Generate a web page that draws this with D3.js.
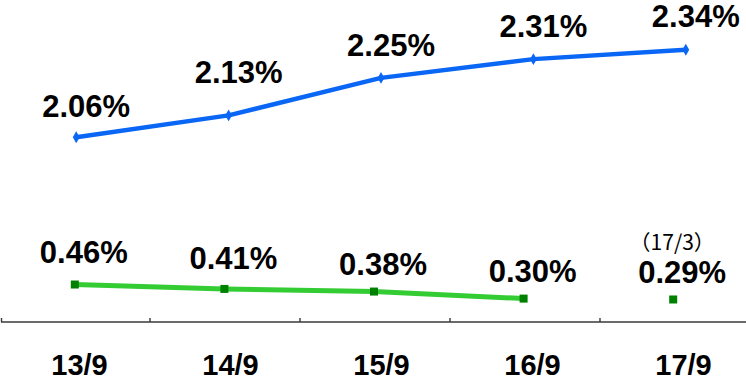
<!DOCTYPE html>
<html>
<head>
<meta charset="utf-8">
<script src="https://cdn.jsdelivr.net/npm/d3@7"></script>
<style>
  html, body { margin: 0; padding: 0; background: #fff; }
  svg { display: block; }
  .val { font-family: "Liberation Sans", Arial, sans-serif; font-weight: bold; font-size: 31px; fill: #000; }
  .tick-label { font-family: "Liberation Sans", Arial, sans-serif; font-weight: bold; font-size: 29px; fill: #000; }
  .note { font-family: "Noto Sans CJK JP", "Noto Sans", sans-serif; font-size: 21px; fill: #000; }
</style>
</head>
<body>
<svg id="chart" width="746" height="382"></svg>
<script>
// Period labels (fiscal year / month)
const periods = ["13/9", "14/9", "15/9", "16/9", "17/9"];
// Upper series (%)
const upperRates = [2.06, 2.13, 2.25, 2.31, 2.34];
// Lower series (%), 13/9 – 16/9 joined by a line
const lowerRates = [0.46, 0.41, 0.38, 0.30];
// Latest lower value is as of 17/3, shown as a standalone point in the 17/9 slot
const lowerLatest = { period: "17/9", value: 0.29, note: "（17/3）" };

// Label nudges (px) so the value tags sit clear of the lines
const upperLabelDy = [-20, -32, -22, -22, -23];
const lowerLabelDy = [-22, -20, -17, -17, -16];

const W = 746, H = 382;
const svg = d3.select("#chart");

// Category slots: boundaries for ticks, and slightly different spreads per layer
const xSlots = d3.scaleBand().domain(periods).range([0, 750]);
const xUpper = d3.scaleBand().domain(periods).range([0, 762]);
const xLower = d3.scaleBand().domain(periods).range([0, 748]);
const xText  = d3.scaleBand().domain(periods).range([4, 759]);
const mid = s => p => s(p) + s.bandwidth() / 2;
const cxU = mid(xUpper), cxL = mid(xLower);

// Two independent vertical scales: upper band and lower band
const yUpper = d3.scaleLinear().domain([2.0, 2.4]).range([156, 31]);
const yLower = d3.scaleLinear().domain([0, 0.5]).range([325, 281]);

const fmt = v => v.toFixed(2) + "%";

// Axis baseline with slot boundary ticks pointing up
const axisY = 322;
const axisG = svg.append("g").attr("transform", `translate(0,${axisY})`);
axisG.append("line")
  .attr("x1", 1).attr("x2", W).attr("y1", 0).attr("y2", 0)
  .attr("stroke", "#3a3a3a").attr("stroke-width", 1.6);
axisG.selectAll("line.edge").data(periods).join("line")
  .attr("class", "edge")
  .attr("x1", d => Math.max(xSlots(d), 1.5)).attr("x2", d => Math.max(xSlots(d), 1.5))
  .attr("y1", 0).attr("y2", -4)
  .attr("stroke", "#3a3a3a").attr("stroke-width", 1.4);

const xAxis = d3.axisBottom(xText).tickSize(0).tickPadding(0);
const axisLabels = svg.append("g").attr("transform", `translate(0,${axisY})`).call(xAxis);
axisLabels.select(".domain").remove();
axisLabels.selectAll("text")
  .attr("class", "tick-label")
  .attr("dy", 0).attr("y", 53)
  .attr("font-size", null).attr("font-family", null);

// Upper series line
const upperData = periods.map((p, i) => ({ p, v: upperRates[i], i }));
const upperLine = d3.line().x(d => cxU(d.p)).y(d => yUpper(d.v));
svg.append("path").datum(upperData)
  .attr("d", upperLine)
  .attr("fill", "none").attr("stroke", "#0a66f5")
  .attr("stroke-width", 4.5).attr("stroke-linejoin", "round");
svg.selectAll("path.upper-mark").data(upperData).join("path")
  .attr("class", "upper-mark")
  .attr("d", d3.symbol(d3.symbolDiamond, 40))
  .attr("transform", d => `translate(${cxU(d.p)},${yUpper(d.v)})`)
  .attr("fill", "#0a66f5");
svg.selectAll("text.upper-val").data(upperData).join("text")
  .attr("class", "val upper-val")
  .attr("text-anchor", "middle")
  .attr("x", d => cxU(d.p) + 10)
  .attr("y", d => yUpper(d.v) + upperLabelDy[d.i])
  .text(d => fmt(d.v));

// Lower series line (joined periods)
const lowerData = lowerRates.map((v, i) => ({ p: periods[i], v, i }));
const lowerLine = d3.line().x(d => cxL(d.p)).y(d => yLower(d.v));
svg.append("path").datum(lowerData)
  .attr("d", lowerLine)
  .attr("fill", "none").attr("stroke", "#33cc33")
  .attr("stroke-width", 5);

const lowerAll = lowerData.concat([{ p: lowerLatest.period, v: lowerLatest.value, i: 4 }]);
svg.selectAll("rect.lower-mark").data(lowerAll).join("rect")
  .attr("class", "lower-mark")
  .attr("x", d => cxL(d.p) - 4).attr("y", d => yLower(d.v) - 4)
  .attr("width", 8).attr("height", 8)
  .attr("fill", "#008000");
svg.selectAll("text.lower-val").data(lowerAll).join("text")
  .attr("class", "val lower-val")
  .attr("text-anchor", "middle")
  .attr("x", d => cxL(d.p) + 9)
  .attr("y", d => yLower(d.v) + lowerLabelDy[d.i])
  .text(d => fmt(d.v));

// Reference date for the standalone point
svg.append("text")
  .attr("class", "note")
  .attr("text-anchor", "middle")
  .attr("x", cxL(lowerLatest.period) - 1)
  .attr("y", 250)
  .text(lowerLatest.note);
</script>
</body>
</html>
